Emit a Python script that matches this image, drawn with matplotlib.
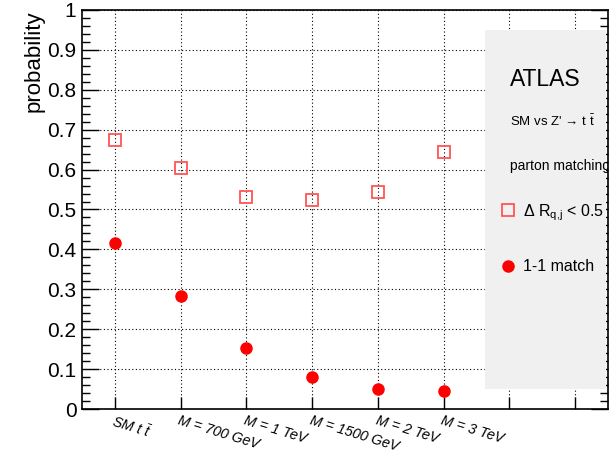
import numpy as np
import matplotlib
matplotlib.use("Agg")
import matplotlib.pyplot as plt
from matplotlib.lines import Line2D
from matplotlib.patches import Rectangle
from matplotlib.ticker import MultipleLocator

plt.rcParams['font.family'] = ['Liberation Sans', 'DejaVu Sans']
plt.rcParams['mathtext.fontset'] = 'custom'
plt.rcParams['mathtext.rm'] = 'Liberation Sans'
plt.rcParams['mathtext.it'] = 'Liberation Sans:italic'

# samples (one histogram bin each, 8 bins in total)
samples = ["SM t $\\bar{t}$", "M = 700 GeV", "M = 1 TeV",
           "M = 1500 GeV", "M = 2 TeV", "M = 3 TeV"]
n_bins = 8

# probabilities
dr_match = [0.674, 0.603, 0.531, 0.525, 0.545, 0.643]   # Delta R(q,j) < 0.5
one_one = [0.416, 0.283, 0.153, 0.080, 0.049, 0.046]    # 1-1 match

fig = plt.figure(figsize=(6.15, 4.53), dpi=100)
ax = fig.add_axes([0.1333, 0.0971, 0.8553, 0.8809])

x = np.arange(len(samples)) + 0.5
ax.plot(x, dr_match, ls='none', marker='s', ms=8.5, mfc='none',
        mec='#ff5555', mew=1.3, zorder=4)
ax.plot(x, one_one, ls='none', marker='o', ms=8, color='#ff0000',
        mec='#ff0000', zorder=4)

ax.set_xlim(0, n_bins)
ax.set_ylim(0, 1)

centers = np.arange(n_bins) + 0.5
ax.set_xticks(centers)
ax.set_xticklabels(samples + [""] * (n_bins - len(samples)),
                   rotation=-17, ha='left', va='top', rotation_mode='anchor',
                   fontsize=10.3, style='italic')
ax.yaxis.set_major_locator(MultipleLocator(0.1))
ax.yaxis.set_minor_locator(MultipleLocator(0.02))
ax.set_yticks(np.arange(0, 1.01, 0.1))
ax.set_yticklabels(["%g" % round(v, 1) for v in np.arange(0, 1.01, 0.1)],
                   fontsize=15)

ax.tick_params(axis='x', direction='in', length=9, width=1, pad=3)
ax.tick_params(axis='y', which='major', direction='in', length=12, width=1,
               right=True, pad=4)
ax.tick_params(axis='y', which='minor', direction='in', length=6, width=1,
               right=True)

ax.grid(True, which='major', color='black', lw=0.8, ls=(0, (1, 2.2)))
for s in ax.spines.values():
    s.set_linewidth(1.2)

ax.set_ylabel("probability", fontsize=16, loc='top', labelpad=2)

# legend panel
ax.add_patch(Rectangle((0.7665, 0.0505), 0.229, 0.8995, transform=ax.transAxes,
                       facecolor='#f0f0f0', edgecolor='none', zorder=3))
ax.text(0.8137, 0.825, "ATLAS", transform=ax.transAxes, fontsize=16.5,
        va='center', zorder=5)
ax.text(0.8137, 0.72, "SM vs Z' \u2192 t $\\bar{\\mathrm{t}}$",
        transform=ax.transAxes, fontsize=9.5, va='center', zorder=5)
ax.text(0.8137, 0.61, "parton matching", transform=ax.transAxes,
        fontsize=10, va='center', zorder=5, clip_on=True)

handles = [Line2D([], [], ls='none', marker='s', ms=8.5, mfc='none',
                  mec='#ff5555', mew=1.3),
           Line2D([], [], ls='none', marker='o', ms=8, color='#ff0000')]
leg = ax.legend(handles, ["$\\Delta$ R$_{\\mathrm{q{,}j}}$ < 0.5", "1-1 match"],
                loc='upper left', bbox_to_anchor=(0.783, 0.535),
                frameon=False, fontsize=11.5, labelspacing=2.3,
                handlelength=1.0, handletextpad=0.4, borderaxespad=0)
leg.set_zorder(5)

fig.savefig("out.png", dpi=100)
